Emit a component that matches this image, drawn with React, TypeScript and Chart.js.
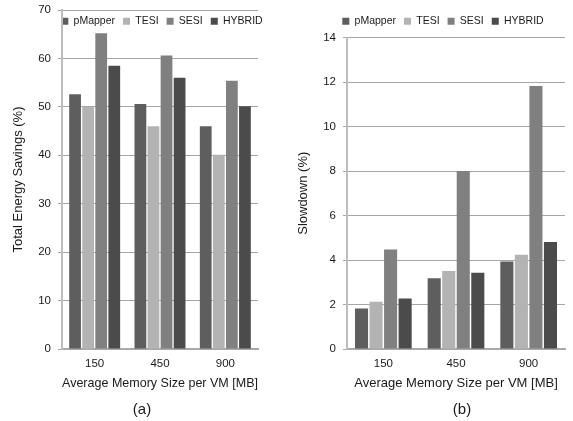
import React, { useEffect, useRef } from 'react';
import { Chart, registerables } from 'chart.js';

Chart.register(...registerables);

const categories = ['150', '450', '900'];
const seriesNames = ['pMapper', 'TESI', 'SESI', 'HYBRID'];
const seriesColors = ['#5e5e5e', '#b3b3b3', '#808080', '#4b4b4b'];

const energyPMapper = [52.6, 50.6, 46.0];
const energyTESI = [50.0, 46.0, 40.1];
const energySESI = [65.2, 60.6, 55.4];
const energyHYBRID = [58.5, 56.0, 50.1];

const slowPMapper = [1.82, 3.18, 3.93];
const slowTESI = [2.12, 3.51, 4.24];
const slowSESI = [4.47, 8.0, 11.82];
const slowHYBRID = [2.27, 3.43, 4.81];

const xTitle = 'Average Memory Size per VM [MB]';
const energyTitle = 'Total Energy Savings (%)';
const slowTitle = 'Slowdown (%)';
const energyMax = 70;
const energyStep = 10;
const slowMax = 14;
const slowStep = 2;

const FONT = '"Liberation Sans", Arial, sans-serif';
const TEXT = '#1a1a1a';

const legendShift = {
  id: 'legendShift',
  afterLayout(chart: any, _args: any, opts: any) {
    const l = chart.legend;
    if (!l || !opts) return;
    const dx = opts.dx || 0;
    const dy = opts.dy || 0;
    l.left += dx;
    l.right += dx;
    l.top += dy;
    l.bottom += dy;
    if (opts.h) {
      l.bottom = l.top + opts.h;
      l.height = opts.h;
    }
  },
};

function makeConfig(
  values: number[][],
  yTitle: string,
  yMax: number,
  yStep: number,
  legendMaxHeight: number | undefined,
  shift: { dx: number; dy: number; h?: number },
  padding: { top: number; right: number },
  zeroTopPad: boolean,
): any {
  return {
    type: 'bar',
    data: {
      labels: categories,
      datasets: seriesNames.map((name, i) => ({
        label: name,
        data: values[i],
        backgroundColor: seriesColors[i],
        borderWidth: 0,
      })),
    },
    plugins: [legendShift],
    options: {
      responsive: false,
      animation: false,
      devicePixelRatio: 1,
      layout: { padding: { top: padding.top, right: padding.right, left: 0, bottom: 0 } },
      plugins: {
        legendShift: shift,
        tooltip: { enabled: false },
        legend: {
          position: 'top',
          maxHeight: legendMaxHeight,
          labels: {
            boxWidth: 7,
            boxHeight: 7,
            padding: 8,
            color: TEXT,
            font: { family: FONT, size: 10.5 },
          },
        },
      },
      scales: {
        x: {
          afterFit: (s: any) => {
            s.height = 51;
          },
          grid: { display: false, drawTicks: false },
          border: { display: true, color: '#a9a9a9', width: 2 },
          ticks: { color: TEXT, padding: 8, font: { family: FONT, size: 11.5 } },
          title: {
            display: true,
            text: xTitle,
            color: TEXT,
            padding: { top: 0, bottom: 9 },
            font: { family: FONT, size: 13 },
          },
        },
        y: {
          min: 0,
          max: yMax,
          afterFit: (s: any) => {
            s.width = 62;
            if (zeroTopPad) s.paddingTop = 0;
          },
          grid: { color: '#a6a6a6', lineWidth: 1, tickLength: 4, drawTicks: true },
          border: { display: true, color: '#bdbdbd', width: 2 },
          ticks: {
            stepSize: yStep,
            color: TEXT,
            padding: 7,
            font: { family: FONT, size: 11.5 },
          },
          title: {
            display: true,
            text: yTitle,
            color: TEXT,
            padding: { top: 11, bottom: 0 },
            font: { family: FONT, size: 13 },
          },
        },
      },
    },
  };
}

function BarChart(props: { config: any; width: number; height: number; left: number }) {
  const ref = useRef<HTMLCanvasElement | null>(null);
  useEffect(() => {
    if (!ref.current) return;
    const chart = new Chart(ref.current, props.config);
    return () => chart.destroy();
  }, []);
  return (
    <canvas
      ref={ref}
      width={props.width}
      height={props.height}
      style={{ position: 'absolute', left: props.left, top: 0, width: props.width, height: props.height }}
    />
  );
}

export default function App() {
  const cfgA = makeConfig(
    [energyPMapper, energyTESI, energySESI, energyHYBRID],
    energyTitle,
    energyMax,
    energyStep,
    1,
    { dx: 33, dy: -1, h: 40 },
    { top: 9, right: 12 },
    true,
  );
  const cfgB = makeConfig(
    [slowPMapper, slowTESI, slowSESI, slowHYBRID],
    slowTitle,
    slowMax,
    slowStep,
    undefined,
    { dx: 18, dy: -1 },
    { top: 9, right: 8 },
    false,
  );
  const caption: React.CSSProperties = {
    position: 'absolute',
    top: 399,
    width: 40,
    textAlign: 'center',
    fontFamily: FONT,
    fontSize: 15,
    lineHeight: '20px',
    color: TEXT,
  };
  return (
    <div style={{ position: 'fixed', left: 0, top: 0, width: 573, height: 421, background: '#fff', overflow: 'hidden' }}>
      <BarChart config={cfgA} width={270} height={400} left={0} />
      <BarChart config={cfgB} width={288} height={400} left={285} />
      <div style={{ ...caption, left: 142 - 20 }}>(a)</div>
      <div style={{ ...caption, left: 462 - 20 }}>(b)</div>
    </div>
  );
}
